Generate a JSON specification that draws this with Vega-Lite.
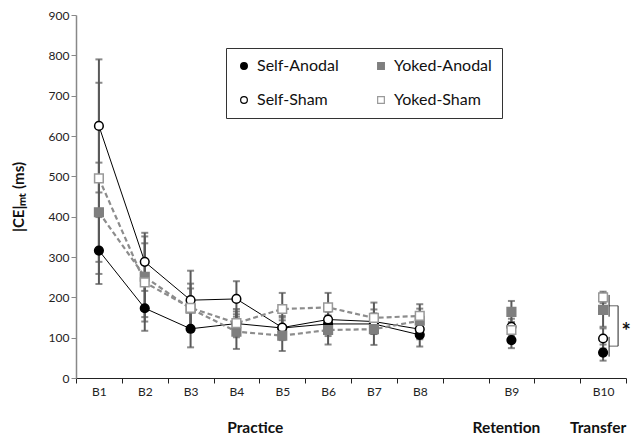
{
  "$schema": "https://vega.github.io/schema/vega-lite/v6.json",
  "width": 550,
  "height": 363,
  "autosize": {"type": "none"},
  "padding": {"left": 76, "top": 15, "right": 18, "bottom": 59},
  "background": "white",
  "config": {
    "font": "Lato",
    "view": {"stroke": null},
    "axis": {"grid": false, "labelFont": "Lato", "titleFont": "Lato"},
    "legend": {
      "title": null,
      "orient": "none",
      "legendX": 150,
      "legendY": 33,
      "columns": 2,
      "gridAlign": "all",
      "columnPadding": 18,
      "rowPadding": 18,
      "padding": 10,
      "strokeColor": "#333",
      "labelFontSize": 16,
      "labelFont": "Lato",
      "labelColor": "#111",
      "labelOffset": 5,
      "symbolSize": 45,
      "symbolStrokeWidth": 1.2
    }
  },
  "datasets": {
    "pts": [
      {"block": "B1", "group": "Self-Anodal", "mean": 316, "lo": 233, "hi": 399},
      {"block": "B2", "group": "Self-Anodal", "mean": 173, "lo": 117, "hi": 229},
      {"block": "B3", "group": "Self-Anodal", "mean": 122, "lo": 76, "hi": 168},
      {"block": "B4", "group": "Self-Anodal", "mean": 135, "lo": 105, "hi": 165},
      {"block": "B5", "group": "Self-Anodal", "mean": 124, "lo": 94, "hi": 154},
      {"block": "B6", "group": "Self-Anodal", "mean": 134, "lo": 104, "hi": 164},
      {"block": "B7", "group": "Self-Anodal", "mean": 134, "lo": 109, "hi": 159},
      {"block": "B8", "group": "Self-Anodal", "mean": 107, "lo": 78, "hi": 136},
      {"block": "B9", "group": "Self-Anodal", "mean": 94, "lo": 74, "hi": 114},
      {"block": "B10", "group": "Self-Anodal", "mean": 63, "lo": 43, "hi": 83},
      {"block": "B1", "group": "Self-Sham", "mean": 625, "lo": 460, "hi": 790},
      {"block": "B2", "group": "Self-Sham", "mean": 288, "lo": 216, "hi": 360},
      {"block": "B3", "group": "Self-Sham", "mean": 193, "lo": 120, "hi": 266},
      {"block": "B4", "group": "Self-Sham", "mean": 196, "lo": 152, "hi": 240},
      {"block": "B5", "group": "Self-Sham", "mean": 125, "lo": 100, "hi": 150},
      {"block": "B6", "group": "Self-Sham", "mean": 145, "lo": 120, "hi": 170},
      {"block": "B7", "group": "Self-Sham", "mean": 140, "lo": 110, "hi": 170},
      {"block": "B8", "group": "Self-Sham", "mean": 121, "lo": 96, "hi": 146},
      {"block": "B9", "group": "Self-Sham", "mean": 127, "lo": 107, "hi": 147},
      {"block": "B10", "group": "Self-Sham", "mean": 98, "lo": 73, "hi": 123},
      {"block": "B1", "group": "Yoked-Anodal", "mean": 411, "lo": 288, "hi": 534},
      {"block": "B2", "group": "Yoked-Anodal", "mean": 251, "lo": 151, "hi": 351},
      {"block": "B3", "group": "Yoked-Anodal", "mean": 172, "lo": 122, "hi": 222},
      {"block": "B4", "group": "Yoked-Anodal", "mean": 115, "lo": 72, "hi": 158},
      {"block": "B5", "group": "Yoked-Anodal", "mean": 105, "lo": 67, "hi": 143},
      {"block": "B6", "group": "Yoked-Anodal", "mean": 119, "lo": 83, "hi": 155},
      {"block": "B7", "group": "Yoked-Anodal", "mean": 121, "lo": 82, "hi": 160},
      {"block": "B8", "group": "Yoked-Anodal", "mean": 142, "lo": 112, "hi": 172},
      {"block": "B9", "group": "Yoked-Anodal", "mean": 164, "lo": 137, "hi": 191},
      {"block": "B10", "group": "Yoked-Anodal", "mean": 169, "lo": 127, "hi": 211},
      {"block": "B1", "group": "Yoked-Sham", "mean": 495, "lo": 258, "hi": 732},
      {"block": "B2", "group": "Yoked-Sham", "mean": 237, "lo": 140, "hi": 334},
      {"block": "B3", "group": "Yoked-Sham", "mean": 174, "lo": 114, "hi": 234},
      {"block": "B4", "group": "Yoked-Sham", "mean": 136, "lo": 101, "hi": 171},
      {"block": "B5", "group": "Yoked-Sham", "mean": 171, "lo": 131, "hi": 211},
      {"block": "B6", "group": "Yoked-Sham", "mean": 175, "lo": 139, "hi": 211},
      {"block": "B7", "group": "Yoked-Sham", "mean": 149, "lo": 111, "hi": 187},
      {"block": "B8", "group": "Yoked-Sham", "mean": 154, "lo": 125, "hi": 183},
      {"block": "B9", "group": "Yoked-Sham", "mean": 119, "lo": 99, "hi": 139},
      {"block": "B10", "group": "Yoked-Sham", "mean": 200, "lo": 186, "hi": 214}
    ],
    "bracketV": [
      {"block": "B10", "y1": 206, "y2": 152},
      {"block": "B10", "y1": 102, "y2": 53}
    ],
    "bracketR": [
      {"block": "B10", "y1": 179, "y2": 79}
    ],
    "bracketH": [
      {"block": "B10", "y": 179},
      {"block": "B10", "y": 79}
    ],
    "star": [
      {"block": "B10", "y": 129, "label": "*"}
    ],
    "phasesP": [
      {"block": "B5", "label": "Practice"}
    ],
    "phasesRT": [
      {"block": "B9", "label": "Retention"},
      {"block": "B10", "label": "Transfer"}
    ]
  },
  "encoding": {
    "x": {
      "field": "block",
      "type": "nominal",
      "sort": null,
      "scale": {
        "type": "band",
        "domain": ["B1", "B2", "B3", "B4", "B5", "B6", "B7", "B8", "g1", "B9", "g2", "B10"],
        "paddingInner": 0,
        "paddingOuter": 0
      },
      "axis": {
        "title": null,
        "labelAngle": 0,
        "labelFontSize": 12,
        "labelColor": "#222",
        "labelPadding": 3,
        "tickBand": "extent",
        "tickSize": 5,
        "tickColor": "#222",
        "domainColor": "#222",
        "labelExpr": "datum.value == 'g1' || datum.value == 'g2' ? '' : datum.value"
      }
    }
  },
  "layer": [
    {
      "data": {"name": "pts"},
      "mark": {"type": "rule", "color": "#595959", "strokeWidth": 2},
      "encoding": {
        "y": {
          "field": "lo",
          "type": "quantitative",
          "scale": {"domain": [0, 900], "nice": false},
          "axis": {
            "title": "|CE|ₘₜ (ms)",
            "titleFontSize": 15,
            "titleFontWeight": "bold",
            "titleColor": "#111",
            "titlePadding": 22,
            "values": [0, 100, 200, 300, 400, 500, 600, 700, 800, 900],
            "labelFontSize": 12,
            "labelColor": "#222",
            "tickSize": 5,
            "tickColor": "#888",
            "domainColor": "#888",
            "domainWidth": 1.5
          }
        },
        "y2": {"field": "hi"}
      }
    },
    {
      "data": {"name": "pts"},
      "mark": {"type": "tick", "color": "#595959", "size": 7, "thickness": 2},
      "encoding": {"y": {"field": "lo", "type": "quantitative"}}
    },
    {
      "data": {"name": "pts"},
      "mark": {"type": "tick", "color": "#595959", "size": 7, "thickness": 2},
      "encoding": {"y": {"field": "hi", "type": "quantitative"}}
    },
    {
      "data": {"name": "pts"},
      "transform": [
        {"filter": "datum.block != 'B9' && datum.block != 'B10' && indexof(datum.group, 'Self') == 0"}
      ],
      "mark": {"type": "line", "color": "black", "strokeWidth": 1},
      "encoding": {
        "y": {"field": "mean", "type": "quantitative"},
        "detail": {"field": "group"}
      }
    },
    {
      "data": {"name": "pts"},
      "transform": [
        {"filter": "datum.block != 'B9' && datum.block != 'B10' && indexof(datum.group, 'Yoked') == 0"}
      ],
      "mark": {"type": "line", "color": "#8c8c8c", "strokeWidth": 2.2, "strokeDash": [5, 3]},
      "encoding": {
        "y": {"field": "mean", "type": "quantitative"},
        "detail": {"field": "group"}
      }
    },
    {
      "data": {"name": "pts"},
      "mark": {"type": "point", "size": 75, "strokeWidth": 1.5, "opacity": 1, "fillOpacity": 1},
      "encoding": {
        "y": {"field": "mean", "type": "quantitative"},
        "shape": {
          "field": "group",
          "type": "nominal",
          "scale": {
            "domain": ["Self-Anodal", "Self-Sham", "Yoked-Anodal", "Yoked-Sham"],
            "range": ["circle", "circle", "square", "square"]
          }
        },
        "fill": {
          "field": "group",
          "type": "nominal",
          "scale": {
            "domain": ["Self-Anodal", "Self-Sham", "Yoked-Anodal", "Yoked-Sham"],
            "range": ["#000000", "#ffffff", "#7f7f7f", "#ffffff"]
          }
        },
        "stroke": {
          "field": "group",
          "type": "nominal",
          "scale": {
            "domain": ["Self-Anodal", "Self-Sham", "Yoked-Anodal", "Yoked-Sham"],
            "range": ["#000000", "#000000", "#7f7f7f", "#999999"]
          }
        }
      }
    },
    {
      "data": {"name": "bracketV"},
      "mark": {"type": "rule", "color": "#222", "strokeWidth": 1, "xOffset": 6},
      "encoding": {
        "y": {"field": "y1", "type": "quantitative"},
        "y2": {"field": "y2"}
      }
    },
    {
      "data": {"name": "bracketR"},
      "mark": {"type": "rule", "color": "#222", "strokeWidth": 1, "xOffset": 15},
      "encoding": {
        "y": {"field": "y1", "type": "quantitative"},
        "y2": {"field": "y2"}
      }
    },
    {
      "data": {"name": "bracketH"},
      "mark": {"type": "tick", "color": "#222", "thickness": 1, "size": 9, "xOffset": 10.5},
      "encoding": {
        "y": {"field": "y", "type": "quantitative"}
      }
    },
    {
      "data": {"name": "star"},
      "mark": {"type": "text", "fontSize": 22, "fontWeight": "bold", "xOffset": 23, "yOffset": 6, "color": "#111"},
      "encoding": {
        "y": {"field": "y", "type": "quantitative"},
        "text": {"field": "label"}
      }
    },
    {
      "data": {"name": "phasesP"},
      "mark": {"type": "text", "fontSize": 15.5, "fontWeight": "bold", "dx": -27, "color": "#111"},
      "encoding": {
        "y": {"datum": -125, "type": "quantitative"},
        "text": {"field": "label"}
      }
    },
    {
      "data": {"name": "phasesRT"},
      "mark": {"type": "text", "fontSize": 15.5, "fontWeight": "bold", "dx": -5, "color": "#111"},
      "encoding": {
        "y": {"datum": -125, "type": "quantitative"},
        "text": {"field": "label"}
      }
    }
  ]
}
